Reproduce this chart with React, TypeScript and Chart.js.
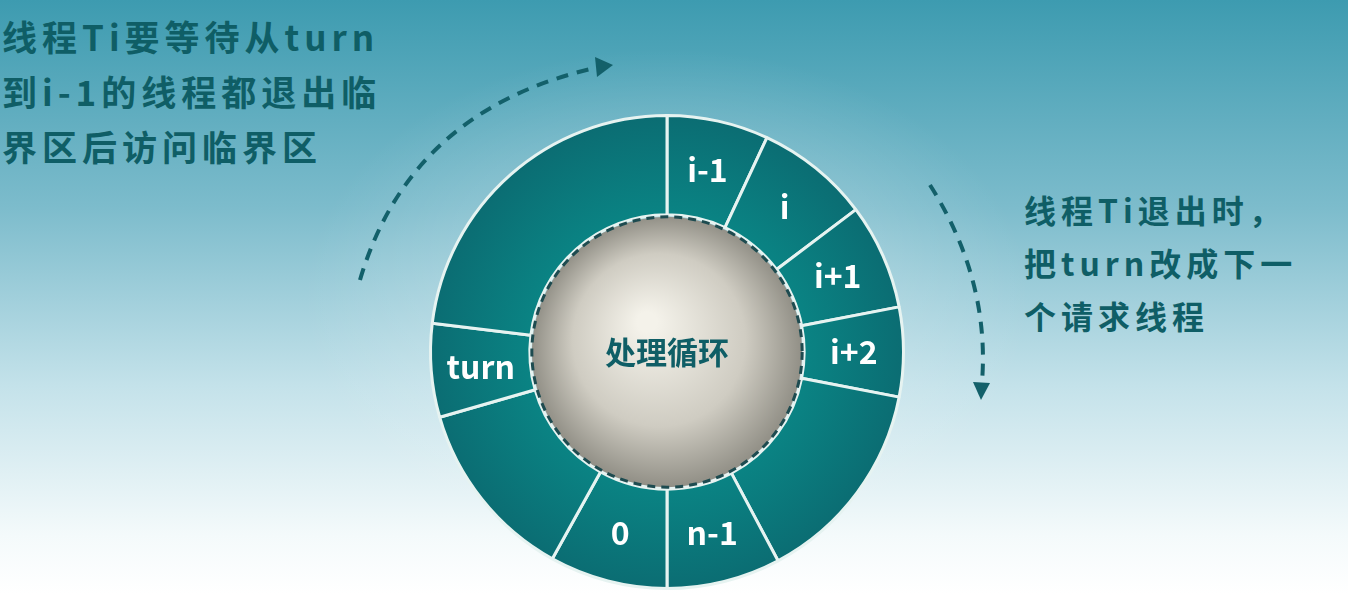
import React, { useEffect, useRef } from 'react'
import Chart from 'chart.js/auto'

// segment labels, clockwise from the top
const segmentLabels = ['i-1', 'i', 'i+1', 'i+2', '', 'n-1', '0', '', 'turn', '']
// angular share of each segment (degrees)
const segmentSizes = [25, 28, 26, 22, 51, 28, 29, 45, 23, 83]
const centerText = '处理循环'
const leftNote = ['线程Ti要等待从turn', '到i-1的线程都退出临', '界区后访问临界区']
const rightNote = ['线程Ti退出时，', '把turn改成下一', '个请求线程']

const FONT = '"Noto Sans CJK SC", "Open Sans", sans-serif'
const TEXT_COLOR = '#0f5e66'

export default function App() {
  const canvasRef = useRef<HTMLCanvasElement | null>(null)
  const chartRef = useRef<Chart | null>(null)

  useEffect(() => {
    if (!canvasRef.current) return
    const ctx = canvasRef.current.getContext('2d')
    if (!ctx) return

    const decor = {
      id: 'decor',
      beforeDatasetsDraw(chart: any) {
        const c = chart.ctx
        // dashed arrows
        c.save()
        c.strokeStyle = '#13606a'
        c.lineWidth = 4
        c.setLineDash([12, 9])
        c.beginPath()
        c.moveTo(360, 280)
        c.quadraticCurveTo(410, 110, 595, 68)
        c.stroke()
        c.beginPath()
        c.moveTo(930, 185)
        c.quadraticCurveTo(990, 280, 982, 382)
        c.stroke()
        c.setLineDash([])
        c.fillStyle = '#13606a'
        c.beginPath()
        c.moveTo(613, 65); c.lineTo(595, 57); c.lineTo(597, 77); c.closePath(); c.fill()
        c.beginPath()
        c.moveTo(981, 400); c.lineTo(973, 382); c.lineTo(990, 383); c.closePath(); c.fill()
        c.restore()
      },
      afterDatasetsDraw(chart: any) {
        const c = chart.ctx
        const arcs = chart.getDatasetMeta(0).data
        const a0 = arcs[0]
        const { x, y, innerRadius } = a0.getProps(['x', 'y', 'innerRadius'], true)
        c.save()
        const g = c.createRadialGradient(x - 20, y - 30, 10, x, y, innerRadius)
        g.addColorStop(0, '#f4f2ea')
        g.addColorStop(0.6, '#cfccc2')
        g.addColorStop(1, '#8f8d84')
        c.fillStyle = g
        c.beginPath()
        c.arc(x, y, innerRadius - 2, 0, Math.PI * 2)
        c.fill()
        c.strokeStyle = '#1d4b50'
        c.lineWidth = 3
        c.setLineDash([8, 6])
        c.stroke()
        c.setLineDash([])
        c.fillStyle = TEXT_COLOR
        c.font = `bold 31px ${FONT}`
        c.textAlign = 'center'
        c.textBaseline = 'middle'
        c.fillText(centerText, x, y)
        c.fillStyle = '#ffffff'
        c.font = `bold 32px ${FONT}`
        arcs.forEach((arc: any, i: number) => {
          if (!segmentLabels[i]) return
          const p = arc.tooltipPosition()
          c.fillText(segmentLabels[i], p.x, p.y)
        })
        c.restore()
      },
    }

    if (chartRef.current) chartRef.current.destroy()
    chartRef.current = new Chart(ctx, {
      type: 'doughnut',
      data: {
        labels: segmentLabels,
        datasets: [
          {
            data: segmentSizes,
            backgroundColor: (context: any) => {
              const chart = context.chart
              const g = chart.ctx.createRadialGradient(667, 352, 130, 667, 352, 240)
              g.addColorStop(0, '#0a8585')
              g.addColorStop(1, '#0b6c72')
              return g
            },
            borderColor: '#e6f3f1',
            borderWidth: 3,
          },
        ],
      },
      options: {
        responsive: false,
        animation: false,
        cutout: '58%',
        layout: { padding: { top: 114, bottom: 5, left: 429, right: 443 } },
        plugins: { legend: { display: false }, tooltip: { enabled: false } },
      },
      plugins: [decor],
    })

    return () => {
      if (chartRef.current) chartRef.current.destroy()
      chartRef.current = null
    }
  }, [])

  const noteStyle: React.CSSProperties = {
    position: 'absolute',
    color: TEXT_COLOR,
    fontFamily: FONT,
    fontWeight: 'bold',
    margin: 0,
    whiteSpace: 'nowrap',
  }

  return (
    <div
      style={{
        position: 'fixed',
        inset: 0,
        width: 1348,
        height: 595,
        overflow: 'hidden',
        background:
          'radial-gradient(ellipse 520px 360px at 667px 300px, rgba(255,255,255,0.35), rgba(255,255,255,0) 70%), linear-gradient(to bottom, #3d9bb0 0%, #7dbccc 35%, #c4e2ea 65%, #f4fafb 90%, #ffffff 100%)',
      }}
    >
      <div style={{ ...noteStyle, left: 2, top: 8, fontSize: 35, lineHeight: '55px', letterSpacing: 5 }}>
        {leftNote.map((t) => (
          <div key={t}>{t}</div>
        ))}
      </div>
      <div style={{ ...noteStyle, left: 1024, top: 183, fontSize: 32, lineHeight: '53px', letterSpacing: 5 }}>
        {rightNote.map((t) => (
          <div key={t}>{t}</div>
        ))}
      </div>
      <canvas ref={canvasRef} width={1348} height={595} style={{ position: 'absolute', left: 0, top: 0 }} />
    </div>
  )
}
